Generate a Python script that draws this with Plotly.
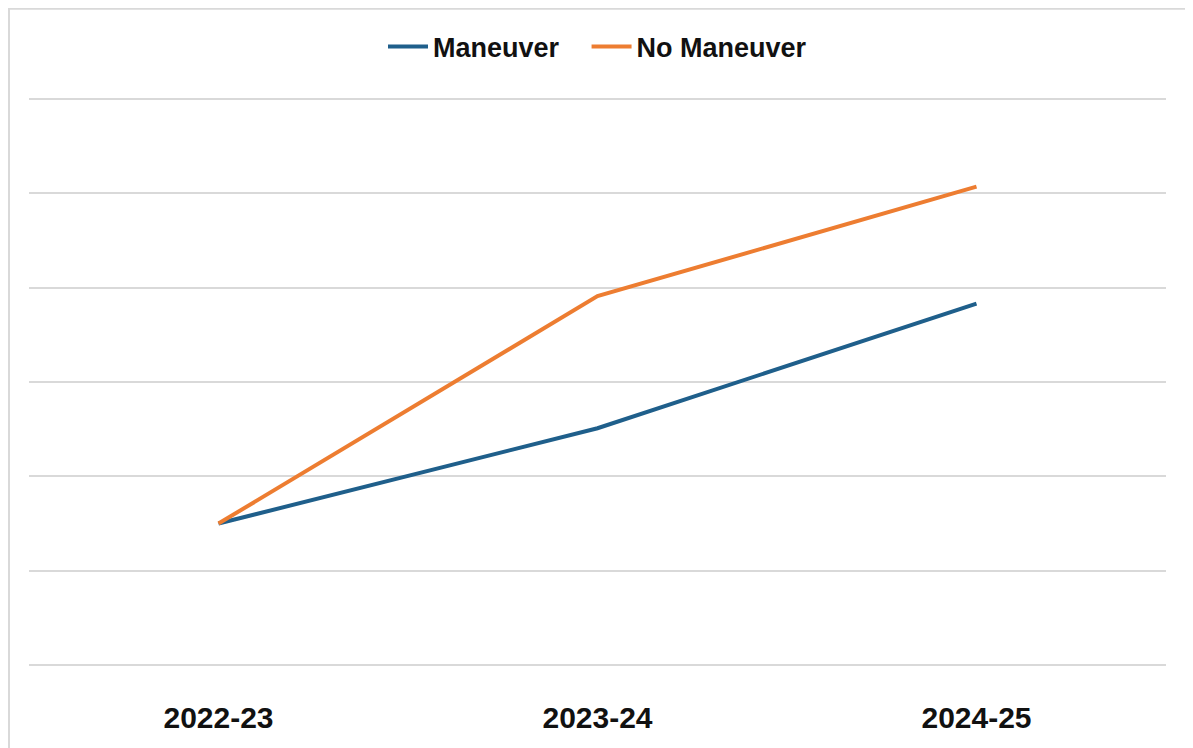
import plotly.graph_objects as go

categories = ["2022-23", "2023-24", "2024-25"]
series_names = ["Maneuver", "No Maneuver"]
maneuver = [1.5, 2.51, 3.83]
no_maneuver = [1.5, 3.91, 5.07]

OFF = 8  # page body offset
ypad = 0.02
upx = (665 - 99) / 6.0
pad_px = ypad * upx
W, H = 1193 - OFF, 748 - OFF
L, R = 29 - OFF, 1166 - OFF
T, B = 99 - OFF - pad_px, 665 - OFF + pad_px
pw, ph = R - L, B - T

fig = go.Figure()
fig.add_trace(go.Scatter(x=categories, y=maneuver, mode="lines",
                         name=series_names[0] + "\u00a0\u00a0\u00a0",
                         line=dict(color="#1F5F8B", width=4)))
fig.add_trace(go.Scatter(x=categories, y=no_maneuver, mode="lines", name=series_names[1],
                         line=dict(color="#ED7D31", width=4)))

font_family = "Liberation Sans Narrow, Arial Narrow, Liberation Sans, Arial, sans-serif"

fig.add_shape(type="rect", xref="paper", yref="paper",
              x0=(1 - L) / pw, x1=(1188 - OFF - L) / pw,
              y0=(B - 760) / ph, y1=(B - 1) / ph,
              line=dict(color="#D9D9D9", width=2), fillcolor="rgba(0,0,0,0)", layer="below")

fig.update_layout(
    width=W, height=H,
    margin=dict(l=L, r=W - R, t=T, b=H - B, autoexpand=False),
    paper_bgcolor="white", plot_bgcolor="white",
    font=dict(family=font_family, color="#111111"),
    showlegend=True,
    legend=dict(orientation="h", x=0.5, xanchor="center", y=(B - (47 - OFF)) / ph, yanchor="middle",
                font=dict(size=27, family=font_family, weight="bold", color="#111111"),
                itemwidth=40, tracegroupgap=0),
    xaxis=dict(type="category", range=[-0.5, 2.5], showgrid=False, zeroline=False,
               showline=False, ticks="", ticklabelstandoff=30,
               tickfont=dict(size=30, family=font_family, weight="bold", color="#111111")),
    yaxis=dict(range=[-ypad, 6 + ypad], tickvals=[0, 1, 2, 3, 4, 5, 6], showticklabels=False,
               gridcolor="#D9D9D9", gridwidth=2, zeroline=False, showline=False),
)

fig.write_html("out.html")
